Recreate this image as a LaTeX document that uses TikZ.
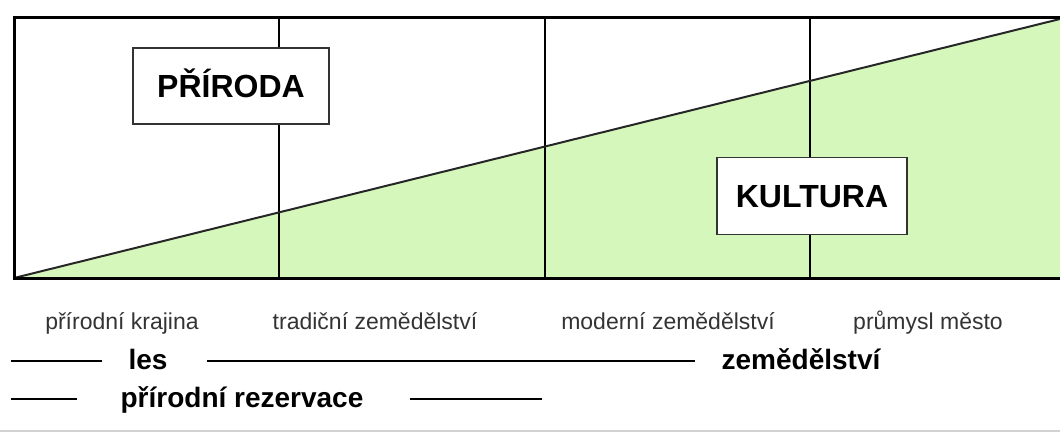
\documentclass[tikz,border=0pt]{standalone}
\usepackage{fontspec}
\setmainfont{Liberation Sans}
\usetikzlibrary{positioning}
\definecolor{kulturagreen}{RGB}{213,247,188}

\begin{document}
\begin{tikzpicture}[x=1pt, y=-1pt,
  every node/.style={inner sep=0pt},
  labelbox/.style={draw=black!80, line width=1.3pt, fill=white, text height=23.3pt, text depth=0pt,
    font=\fontsize{32}{32}\selectfont\bfseries},
  stage/.style={anchor=base, text=black!80, font=\fontsize{23}{23}\selectfont},
  landuse/.style={anchor=base, font=\fontsize{28}{28}\selectfont\bfseries},
  rule/.style={line width=1.2pt}]
  \clip (0,0) rectangle (1060,432);
  \coordinate (sw) at (14,278);
  \coordinate (ne) at (1064,17);
  \coordinate (top) at (1064,18);
  % green wedge
  \fill[kulturagreen] (sw) -- (top) |- cycle;
  \foreach \x in {279,545,810}
    \draw[rule] (\x,17) -- (\x,278);
  \draw[line width=2pt, black!85] (sw) -- (top);
  \draw[line width=3pt] (sw) rectangle (ne);
  \node[labelbox, minimum width=196pt, minimum height=76pt] (priroda) at (231,86) {PŘÍRODA};
  \node[labelbox, minimum width=190pt, minimum height=77pt] (kultura) at (812,196) {KULTURA};
  % stages
  \node[stage] (krajina) at (122,329) {přírodní krajina};
  \node[stage] (tradicni) at (375,329) {tradiční zemědělství};
  \node[stage] (moderni) at (668,329) {moderní zemědělství};
  \node[stage] (mesto) at (928,329) {průmysl město};
  % land use
  \node[landuse] (les) at (148,369) {les};
  \node[landuse] (zemedelstvi) at (801,369) {zemědělství};
  \node[landuse] (rezervace) at (242,407) {přírodní rezervace};
  \draw[rule] (11,361) -- (102,361);
  \draw[rule] (207,361) -- (695,361);
  \draw[rule] (11,399) -- (77,399);
  \draw[rule] (410,399) -- (542,399);
  \draw[gray!35, line width=1.5pt] (0,431) -- (1060,431);
\end{tikzpicture}
\end{document}
